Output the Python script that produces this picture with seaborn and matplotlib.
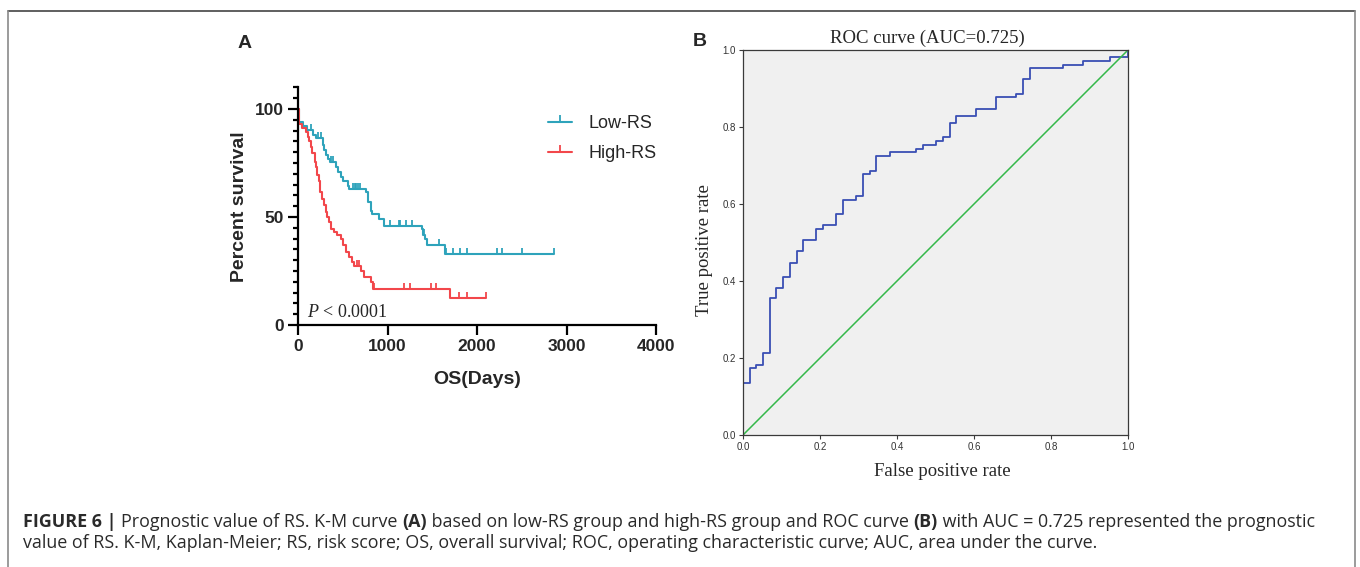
import numpy as np
import pandas as pd
import matplotlib
matplotlib.use("Agg")
import matplotlib.pyplot as plt
from matplotlib.lines import Line2D
from matplotlib.ticker import MultipleLocator, FormatStrFormatter
import seaborn as sns

# ---------------- data ----------------
# Kaplan-Meier, Low-RS group (event times in days, survival % after the step)
low_times = [0, 8, 15, 60, 105, 170, 200, 275, 290, 310, 330, 360, 430, 450, 480,
             500, 555, 570, 760, 780, 815, 830, 900, 960, 1390, 1400, 1420, 1440, 1640]
low_surv = [100, 97, 94, 92, 90.5, 88, 86.5, 83.5, 81, 78.5, 77, 75.5, 73, 71, 68.5,
            66.5, 64.5, 63, 61.5, 57, 53, 51.5, 49, 46, 44.5, 41.5, 40, 37, 33]
low_end = 2863
low_censor = [149, 224, 261, 373, 391, 615, 634, 652, 671, 690, 1033, 1126, 1144, 1212,
              1275, 1405, 1577, 1659, 1733, 1808, 1883, 2218, 2274, 2498, 2863]

# Kaplan-Meier, High-RS group
high_times = [0, 11, 48, 86, 112, 123, 142, 160, 187, 198, 216, 235, 246, 272, 291, 310,
              328, 347, 366, 403, 440, 478, 507, 534, 571, 608, 627, 709, 739, 813, 843, 1698]
high_surv = [100, 93, 91, 89.5, 87, 85, 82.5, 79.5, 75.5, 73, 69.5, 66.5, 61.5, 58.5, 55.5,
             52.5, 50, 47.5, 44.5, 43, 41.5, 40, 37, 34, 31.5, 29, 27.5, 25, 22, 20, 16.7, 12.7]
high_end = 2106
high_censor = [372, 664, 683, 851, 1185, 1249, 1491, 1547, 1800, 1883, 2106]

km_labels = ["Low-RS", "High-RS"]
p_value_text = "< 0.0001"

# ROC curve vertices (FPR, TPR)
fpr = [0, 0, 0.017, 0.035, 0.052, 0.069, 0.087, 0.104, 0.121, 0.139, 0.156, 0.190, 0.208,
       0.242, 0.260, 0.294, 0.312, 0.329, 0.346, 0.381, 0.450, 0.468, 0.502, 0.519, 0.537,
       0.554, 0.606, 0.658, 0.710, 0.727, 0.745, 0.831, 0.883, 0.952, 1.0]
tpr = [0, 0.134, 0.173, 0.182, 0.212, 0.355, 0.383, 0.411, 0.448, 0.478, 0.506, 0.534, 0.545,
       0.574, 0.610, 0.621, 0.678, 0.687, 0.725, 0.734, 0.744, 0.752, 0.763, 0.773, 0.810,
       0.829, 0.848, 0.877, 0.887, 0.925, 0.952, 0.962, 0.971, 0.981, 1.0]
auc_value = 0.725
diag = [0, 1]

caption_line1 = [("FIGURE 6 | ", "bold"),
                 ("Prognostic value of RS. K-M curve ", "normal"),
                 ("(A)", "bold"),
                 (" based on low-RS group and high-RS group and ROC curve ", "normal"),
                 ("(B)", "bold"),
                 (" with AUC = 0.725 represented the prognostic", "normal")]
caption_line2 = [("value of RS. K-M, Kaplan-Meier; RS, risk score; OS, overall survival; "
                  "ROC, operating characteristic curve; AUC, area under the curve.", "normal")]

# ---------------- style ----------------
sns.set_style("ticks")
plt.rcParams["font.family"] = ["Liberation Sans", "DejaVu Sans"]
plt.rcParams["mathtext.fontset"] = "custom"
plt.rcParams["mathtext.rm"] = "Liberation Serif"
plt.rcParams["mathtext.it"] = "Liberation Serif:italic"

TEAL = "#2ea3bb"
RED = "#f2474b"
BLUE = "#3a4fb4"
GREEN = "#35b84a"

W, H = 1360, 567
fig = plt.figure(figsize=(W / 100, H / 100), dpi=100)
fig.patch.set_facecolor("white")


def px_axes(l, t, r, b):
    return fig.add_axes([l / W, 1 - b / H, (r - l) / W, (b - t) / H])


# ---------------- Panel A: K-M ----------------
ax1 = px_axes(298, 87.4, 656, 325)


def step_value(times, surv, t):
    idx = np.searchsorted(np.asarray(times), t, side="right") - 1
    return np.asarray(surv)[idx]


for times, surv, end, cens, col in [(low_times, low_surv, low_end, low_censor, TEAL),
                                    (high_times, high_surv, high_end, high_censor, RED)]:
    xs = list(times) + [end]
    ys = list(surv) + [surv[-1]]
    df = pd.DataFrame({"t": xs, "s": ys})
    sns.lineplot(data=df, x="t", y="s", drawstyle="steps-post", estimator=None, sort=False,
                 color=col, lw=1.5, ax=ax1)
    cdf = pd.DataFrame({"t": cens, "s": step_value(times, surv, cens)})
    sns.scatterplot(data=cdf, x="t", y="s", marker=2, s=18, color=col,
                    linewidth=1.3, ax=ax1, zorder=3)

ax1.set_xlim(0, 4000)
ax1.set_ylim(0, 110)
ax1.set_xticks([0, 1000, 2000, 3000, 4000])
ax1.set_yticks([0, 50, 100])
ax1.yaxis.set_minor_locator(MultipleLocator(5))
for sp in ["top", "right"]:
    ax1.spines[sp].set_visible(False)
for sp in ["left", "bottom"]:
    ax1.spines[sp].set_linewidth(1.6)
    ax1.spines[sp].set_color("black")
ax1.tick_params(axis="both", which="major", length=7, width=1.6, direction="out",
                labelsize=12.5, pad=3, color="black")
ax1.tick_params(axis="y", which="minor", length=3.6, width=1.6, direction="out", color="black")
for lab in ax1.get_xticklabels() + ax1.get_yticklabels():
    lab.set_fontweight("bold")
ax1.set_xlabel("OS(Days)", fontsize=14, fontweight="bold")
ax1.set_ylabel("Percent survival", fontsize=14, fontweight="bold")
ax1.xaxis.set_label_coords(0.5, (325 - 371) / 237.6)
ax1.yaxis.set_label_coords((248 - 298) / 358, 0.5)

ax1.text(100, 3.6, r"$\mathit{P}$ " + p_value_text, fontsize=13,
         family="Liberation Serif", va="baseline", ha="left")

handles = [Line2D([], [], color=TEAL, lw=1.5, marker=2, markersize=5, markeredgewidth=1.3),
           Line2D([], [], color=RED, lw=1.5, marker=2, markersize=5, markeredgewidth=1.3)]
ax1.legend(handles, km_labels, loc="upper left", bbox_to_anchor=(548 / W, 1 - 115 / H),
           bbox_transform=fig.transFigure, frameon=False, fontsize=13, handlelength=1.35,
           handletextpad=0.9, labelspacing=0.72, borderpad=0, borderaxespad=0)

fig.text(245 / W, 1 - 43 / H, "A", fontsize=14, fontweight="bold", ha="center", va="center")

# ---------------- Panel B: ROC ----------------
ax2 = px_axes(743, 50, 1128, 435)
ax2.set_facecolor("#f0f0f0")
roc_df = pd.DataFrame({"fpr": fpr, "tpr": tpr})
sns.lineplot(data=roc_df, x="fpr", y="tpr", drawstyle="steps-post", estimator=None,
             sort=False, color=BLUE, lw=1.3, ax=ax2)
sns.lineplot(x=diag, y=diag, color=GREEN, lw=1.1, ax=ax2, estimator=None)
ax2.set_xlim(0, 1)
ax2.set_ylim(0, 1)
ax2.set_xticks(np.arange(0, 1.01, 0.2))
ax2.set_yticks(np.arange(0, 1.01, 0.2))
ax2.xaxis.set_major_formatter(FormatStrFormatter("%.1f"))
ax2.yaxis.set_major_formatter(FormatStrFormatter("%.1f"))
for sp in ax2.spines.values():
    sp.set_visible(True)
    sp.set_linewidth(0.9)
    sp.set_color("#3a3a3a")
ax2.tick_params(axis="both", length=3, width=0.8, direction="out", labelsize=7,
                pad=2, color="#3a3a3a", labelcolor="#333333")
ax2.set_title(f"ROC curve (AUC={auc_value})", family="Liberation Serif", fontsize=13.5,
              pad=5, x=0.478)
ax2.set_xlabel("False positive rate", family="Liberation Serif", fontsize=13.5)
ax2.set_ylabel("True positive rate", family="Liberation Serif", fontsize=13.5)
ax2.xaxis.set_label_coords((942 - 743) / 385, (435 - 463) / 385)
ax2.yaxis.set_label_coords((713 - 743) / 385, (435 - 250) / 385)

fig.text(700 / W, 1 - 42 / H, "B", fontsize=14, fontweight="bold", ha="center", va="center")

# ---------------- frame ----------------
fig.add_artist(Line2D([8 / W, 1355 / W], [1 - 10.5 / H, 1 - 10.5 / H], color="#444444",
                      lw=1.2, transform=fig.transFigure))
fig.add_artist(Line2D([8 / W, 8 / W], [1 - 10.5 / H, 0], color="#8a8a8a", lw=1.2,
                      transform=fig.transFigure))
fig.add_artist(Line2D([1355 / W, 1355 / W], [1 - 10.5 / H, 0], color="#8a8a8a", lw=1.2,
                      transform=fig.transFigure))

# ---------------- caption ----------------
renderer = fig.canvas.get_renderer()
cap_font = ["Open Sans", "Liberation Sans", "DejaVu Sans"]


def line_width(segments, size):
    total = 0
    for txt, wt in segments:
        t = fig.text(0, 0, txt, fontsize=size, fontweight=wt, family=cap_font)
        total += t.get_window_extent(renderer).width
        t.remove()
    return total


base = 10
w1 = line_width(caption_line1, base)
cap_size = base * (1312 - 23) / w1


def draw_line(segments, y_px, size):
    x = 23
    for txt, wt in segments:
        t = fig.text(x / W, 1 - y_px / H, txt, fontsize=size, fontweight=wt, family=cap_font,
                     va="baseline", ha="left", color="#2a2a2a")
        x = t.get_window_extent(renderer).x1


draw_line(caption_line1, 527, cap_size)
draw_line(caption_line2, 548, cap_size)

fig.savefig("out.png", dpi=100, facecolor="white")
